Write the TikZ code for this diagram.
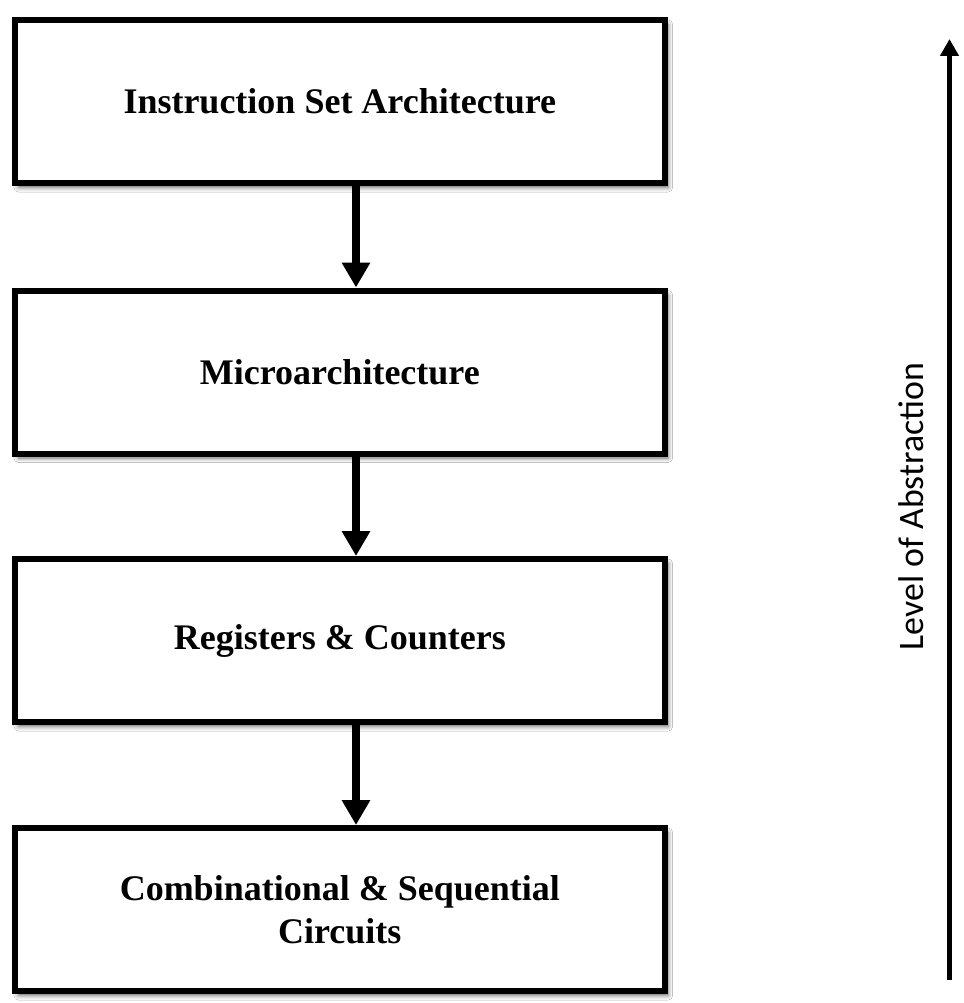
\documentclass[tikz,border=0pt]{standalone}
\usepackage{fontspec}
\setmainfont{Liberation Serif}
\newfontfamily\labelfont{Carlito}
\usetikzlibrary{arrows.meta,shadows.blur}
\begin{document}
\begin{tikzpicture}[x=1pt,y=-1pt,
  levelbox/.style={draw=black, line width=6pt, fill=white, minimum width=649.7pt,
    minimum height=163pt, inner sep=0pt, align=center,
    font=\fontsize{36}{43}\selectfont\bfseries,
    blur shadow={shadow xshift=3.5pt, shadow yshift=-4.5pt, shadow blur radius=4.5pt, shadow opacity=60}},
  downarrow/.style={line width=8pt, -{Triangle[width=27pt,length=25pt]}},
  uparrow/.style={line width=5pt, -{Triangle[width=18pt,length=17pt]}}
]
\useasboundingbox (0,0) rectangle (963,1003);
\fill[white] (0,0) rectangle (963,1003);

\node[levelbox] (isa) at (339.8,101.5) {Instruction Set Architecture};
\node[levelbox] (micro) at (339.8,372) {Microarchitecture};
\node[levelbox] (reg) at (339.8,640.5) {Registers \& Counters};
\node[levelbox] (comb) at (339.8,909.5) {Combinational \& Sequential\\Circuits};

\draw[downarrow] ([xshift=16.2pt]isa.south) -- ([xshift=16.2pt]micro.north);
\draw[downarrow] ([xshift=16.2pt]micro.south) -- ([xshift=16.2pt]reg.north);
\draw[downarrow] ([xshift=16.2pt]reg.south) -- ([xshift=16.2pt]comb.north);

\coordinate (abot) at (949.5,980);
\coordinate (atop) at (949.5,39);
\draw[uparrow] (abot) -- (atop);

\node[anchor=base, rotate=90, inner sep=0pt, font=\labelfont\fontsize{35.8}{42}\selectfont] (lvl) at (923,506.5) {Level of Abstraction};
\end{tikzpicture}
\end{document}
